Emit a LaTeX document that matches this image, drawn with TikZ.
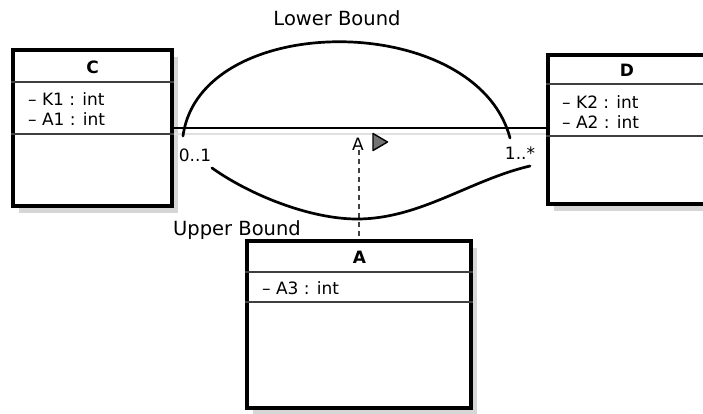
\documentclass[tikz,border=0pt]{standalone}
\usepackage{fontspec}
\setmainfont{DejaVu Sans}
\usetikzlibrary{positioning,shadows}

\tikzset{
  classbox/.style={draw, line width=3.2pt, fill=white, inner sep=0pt,
    drop shadow={shadow xshift=6pt, shadow yshift=-7pt, fill=black!16, opacity=1}},
  classname/.style={font=\fontsize{17}{19}\selectfont\bfseries, inner sep=0pt},
  attrs/.style={font=\fontsize{17}{20}\selectfont, align=left, inner sep=0pt, anchor=west},
  sepline/.style={line width=1.5pt, black!75},
  bound/.style={line width=2.7pt, line cap=round},
  boundlabel/.style={font=\fontsize{19.5}{22}\selectfont, inner sep=0pt},
  mult/.style={font=\fontsize{17}{19}\selectfont, inner sep=0pt},
}

\begin{document}
\begin{tikzpicture}[x=1pt, y=-1pt]
  \useasboundingbox (0,0) rectangle (703,413);

  % classes
  \node[classbox, minimum width=159pt, minimum height=156pt] (C) at (92.5,128) {};
  \node[classbox, minimum width=162pt, minimum height=149pt] (D) at (629,129.5) {};
  \node[classbox, minimum width=224pt, minimum height=167pt] (A) at (359,324.5) {};

  \draw[sepline] (C.west |- 0,82) -- (C.east |- 0,82);
  \draw[sepline] (C.west |- 0,134) -- (C.east |- 0,134);
  \draw[sepline] (D.west |- 0,84) -- (D.east |- 0,84);
  \draw[sepline] (D.west |- 0,136) -- (D.east |- 0,136);
  \draw[sepline] (A.west |- 0,272) -- (A.east |- 0,272);
  \draw[sepline] (A.west |- 0,302) -- (A.east |- 0,302);

  \node[classname] (Cname) at (92.5,67) {C};
  \node[classname] (Dname) at (627,70) {D};
  \node[classname] (Aname) at (359.5,257) {A};

  \node[attrs] (Cattr) at (28,109) {-- K1 : int\\-- A1 : int};
  \node[attrs] (Dattr) at (562,112.5) {-- K2 : int\\-- A2 : int};
  \node[attrs] (Aattr) at (262,288) {-- A3 : int};

  % association
  \draw[black!12, line width=1.5pt] ([yshift=-6pt]C.east) -- ([yshift=-6pt]C.east -| D.west);
  \draw[line width=1.3pt] (C.east) -- (C.east -| D.west);

  \node[mult] (mC) at (195,155) {0..1};
  \node[mult] (mD) at (520,153) {1..*};
  \node[mult] (assoc) at (358,144) {A};
  \coordinate (dir) at (373,142);
  \draw[fill=black!55, line width=1.4pt, line join=round] (dir) -- ++(0,-8.5) -- ++(14.5,8.5) -- ++(-14.5,8.5) -- cycle;

  \draw[dashed, dash pattern=on 5pt off 4pt, line width=1.1pt, black!75] (A.north |- assoc.south) -- (A.north);

  % bounds
  \node[boundlabel] (lower) at (337,18) {Lower Bound};
  \node[boundlabel] (upper) at (237,230) {Upper Bound};

  \coordinate (lbL) at (183,136);
  \coordinate (lbR) at (510,138);
  \draw[bound] (lbL) .. controls (200,10) and (476,10) .. (lbR);

  \coordinate (ubL) at (212,168);
  \coordinate (ubM) at (357,219);
  \coordinate (ubR) at (530,166);
  \draw[bound] (ubL) .. controls (250,195) and (310,219) .. (ubM)
    .. controls (420,219) and (470,180) .. (ubR);
\end{tikzpicture}
\end{document}
